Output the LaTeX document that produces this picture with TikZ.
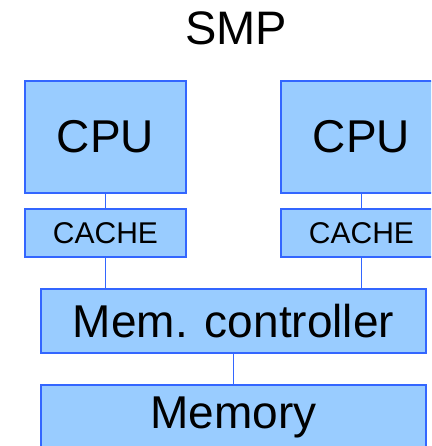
\documentclass[tikz,border=0pt]{standalone}
\usepackage{fontspec}
\setmainfont{Liberation Sans}
\usepackage{xcolor}
\definecolor{smpfill}{RGB}{153,204,255}
\definecolor{smpline}{RGB}{51,102,255}
\usetikzlibrary{positioning}

\tikzset{
  unit/.style={draw=smpline,line width=1.5pt,fill=smpfill,inner sep=0pt,align=center},
  link/.style={draw=smpline,line width=1.5pt}
}

\begin{document}
\begin{tikzpicture}[x=1pt,y=-1pt]
\useasboundingbox (0,0) rectangle (431,446);
\clip (0,0) rectangle (431,446);
% title
\node (title) at (236,28) {\fontsize{47}{50}\selectfont SMP};
% processors with their caches
\node[unit,minimum width=161pt,minimum height=112pt] (cpuA) at (105.5,137) {\fontsize{46}{50}\selectfont CPU};
\node[unit,minimum width=161pt,minimum height=112pt] (cpuB) at (361.5,137) {\fontsize{46}{50}\selectfont CPU};
\node[unit,minimum width=161pt,minimum height=48pt] (cacheA) at (105.5,233) {\fontsize{30}{34}\selectfont CACHE};
\node[unit,minimum width=161pt,minimum height=48pt] (cacheB) at (361.5,233) {\fontsize{30}{34}\selectfont CACHE};
% shared part
\node[unit,minimum width=385pt,minimum height=64pt] (memctl) at (233.5,321) {\fontsize{46}{50}\selectfont Mem. controller};
\node[unit,minimum width=385pt,minimum height=64pt] (memory) at (233.5,417) {\fontsize{46}{50}\selectfont Memory};
% buses
\draw[link] (cpuA) -- (cacheA);
\draw[link] (cpuB) -- (cacheB);
\draw[link] (cacheA.south) -- (cacheA.south |- memctl.north);
\draw[link] (cacheB.south) -- (cacheB.south |- memctl.north);
\draw[link] (memctl) -- (memory);
\end{tikzpicture}
\end{document}
